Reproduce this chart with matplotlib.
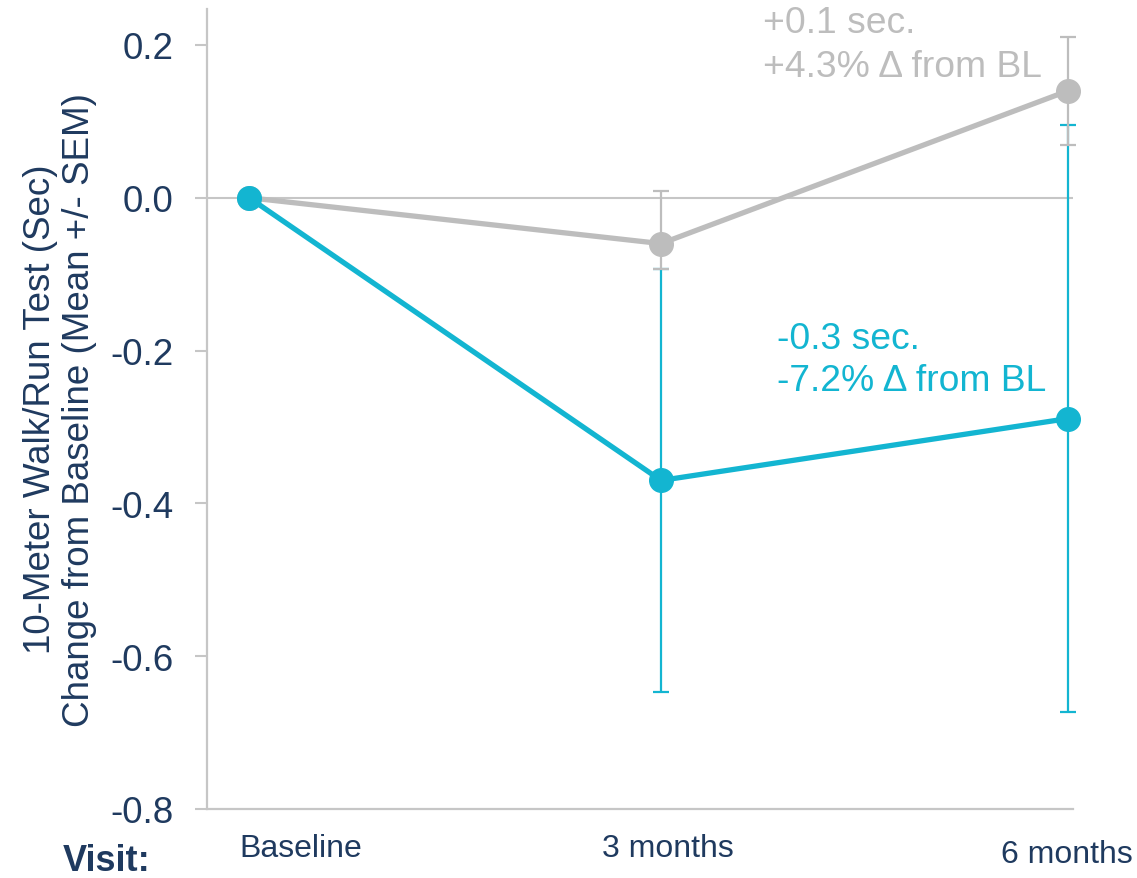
import matplotlib
matplotlib.use("Agg")
import matplotlib.pyplot as plt
import matplotlib.transforms as mtransforms

plt.rcParams['font.family'] = ['Liberation Sans', 'DejaVu Sans']

# visits and mean change from baseline (sec)
visits = ["Baseline", "3 months", "6 months"]
visit_pos = [0.0, 1.006, 2.0]
placebo_mean = [0.0, -0.06, 0.14]
placebo_err_lo = [0.0, 0.033, 0.071]
placebo_err_hi = [0.0, 0.069, 0.071]
treated_mean = [0.0, -0.37, -0.289]
treated_err = [0.0, 0.277, 0.384]

yticks = [0.2, 0.0, -0.2, -0.4, -0.6, -0.8]
ytick_labels = ["0.2", "0.0", "-0.2", "-0.4", "-0.6", "-0.8"]

NAVY = "#1f3a5f"
TEAL = "#13b5d1"
GREY = "#bdbdbd"
AXIS = "#c6c6c6"

fig = plt.figure(figsize=(11.37, 8.79), dpi=100)
ax = fig.add_axes([0.182, 0.0785, 0.7617, 0.9101])

x = visit_pos

ax.axhline(0, color=AXIS, lw=1.5, zorder=1)

# error bars
eb = ax.errorbar(x[1:], treated_mean[1:], yerr=treated_err[1:], fmt="none",
                 ecolor=TEAL, elinewidth=1.6, capsize=6, capthick=1.6, zorder=2)
eb2 = ax.errorbar(x[1:], placebo_mean[1:], yerr=[placebo_err_lo[1:], placebo_err_hi[1:]],
                  fmt="none", ecolor=GREY, elinewidth=1.6, capsize=6, capthick=1.6, zorder=3)
for container in (eb, eb2):
    for artist in container.lines[1] + container.lines[2]:
        artist.set_clip_on(False)

# mean lines
ax.plot(x, placebo_mean, color=GREY, lw=3.8, marker="o", markersize=17,
        zorder=4, clip_on=False)
ax.plot(x, treated_mean, color=TEAL, lw=3.8, marker="o", markersize=17,
        zorder=5, clip_on=False)

ax.text(1.255, 0.201, "+0.1 sec.\n+4.3% Δ from BL", color=GREY, fontsize=26.8,
        ha="left", va="center", linespacing=1.33)
ax.text(1.289, -0.212, "-0.3 sec.\n-7.2% Δ from BL", color=TEAL, fontsize=26.8,
        ha="left", va="center", linespacing=1.25)

ax.set_xlim(-0.103, 2.012)
ax.set_ylim(-0.8, 0.247)

ax.set_yticks(yticks)
ax.set_yticklabels(ytick_labels, fontsize=26.5, color=NAVY)
ax.tick_params(axis="y", length=9, width=1.5, color=AXIS, pad=15)
ax.set_xticks([])

for side in ["top", "right"]:
    ax.spines[side].set_visible(False)
for side in ["left", "bottom"]:
    ax.spines[side].set_color(AXIS)
    ax.spines[side].set_linewidth(1.6)

# visit labels below the axis
trans = mtransforms.blended_transform_factory(ax.transData, ax.transAxes)
label_x = [0.125, 1.023, 1.998]
label_y = [-0.049, -0.049, -0.0565]
for lx, ly, name in zip(label_x, label_y, visits):
    ax.text(lx, ly, name, transform=trans, ha="center", va="center",
            fontsize=23, color=NAVY)

fig.text(0.094, 1 - 862 / 879, "Visit:", ha="center", va="center",
         fontsize=26, fontweight="bold", color=NAVY)

fig.text(0.053, 0.534,
         "10-Meter Walk/Run Test (Sec)\nChange from Baseline (Mean +/- SEM)",
         rotation=90, ha="center", va="center", fontsize=26.5, color=NAVY,
         linespacing=1.15)

fig.savefig("out.png", dpi=100)
